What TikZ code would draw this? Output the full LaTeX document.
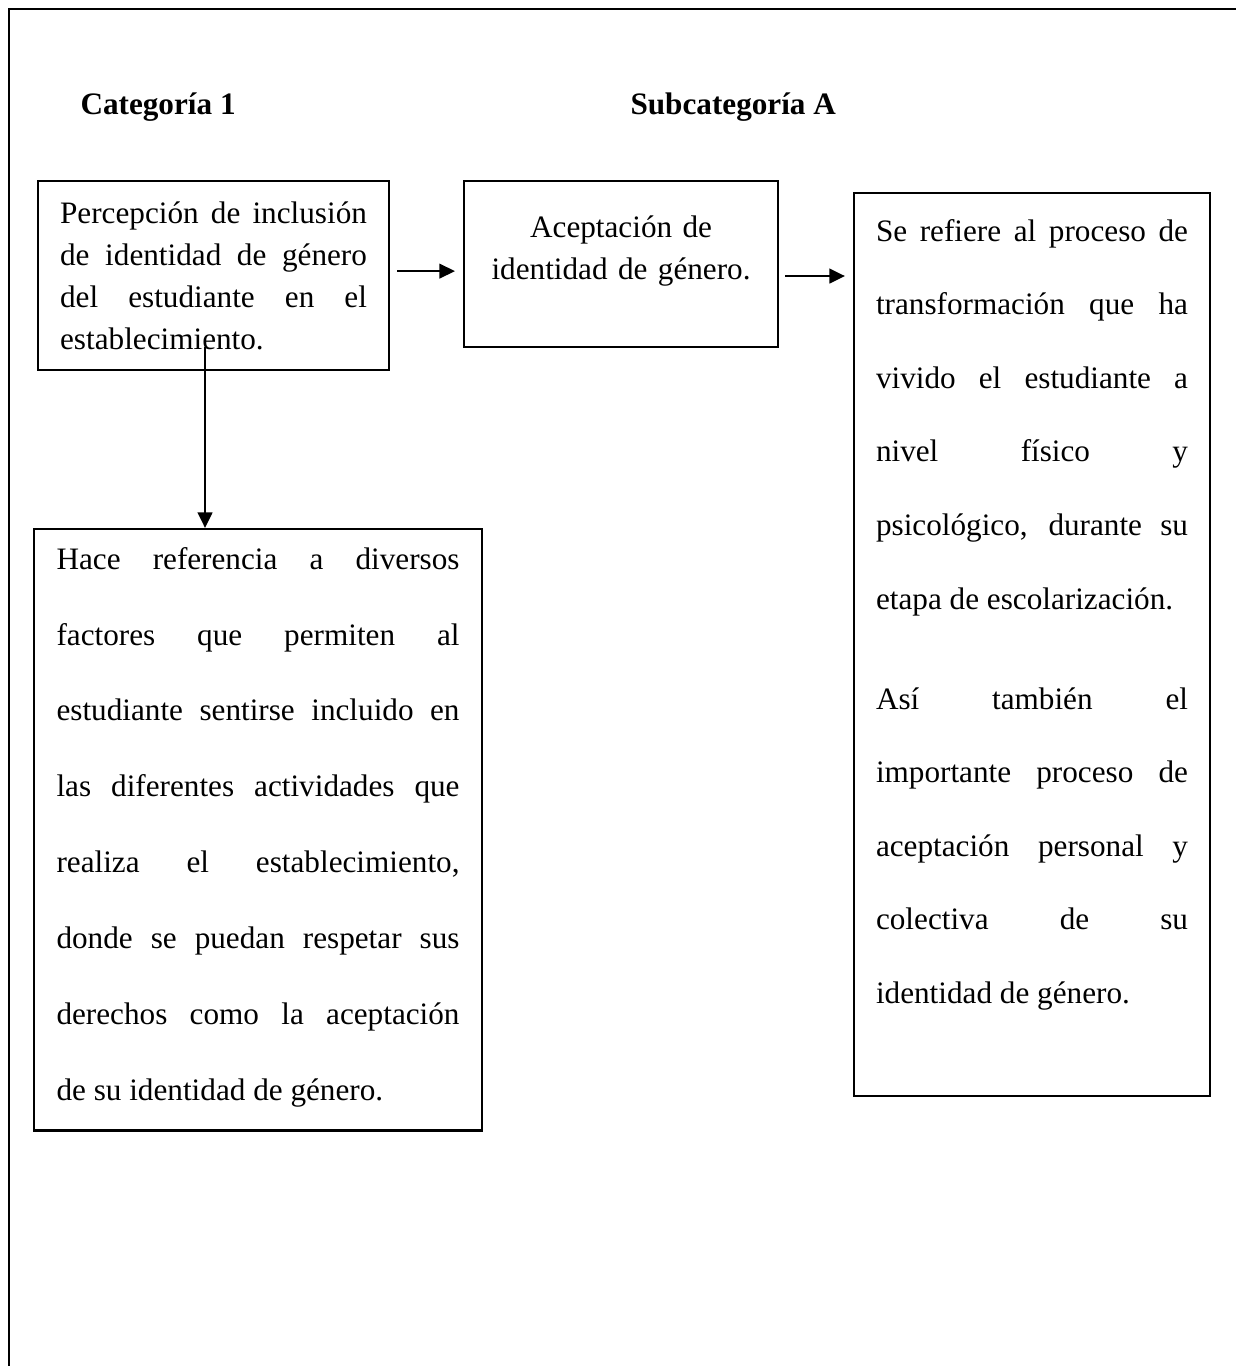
\documentclass[tikz,border=0pt]{standalone}
\usepackage{fontspec}
\setmainfont{Liberation Serif}
\usetikzlibrary{positioning,calc,arrows.meta}
\tikzset{
  textbox/.style = {shape=rectangle, draw, line width=0.8pt,
                    anchor=north west, inner ysep=0pt},
  heading/.style = {font=\fontsize{12}{14}\selectfont\bfseries,
                    anchor=base west, inner sep=0pt},
  link/.style    = {->, line width=0.9pt}
}
\tolerance=10000 \hbadness=10000
\newcommand{\topstrut}[1]{\rule{0pt}{#1}}
\newcommand{\botstrut}[1]{\rule[-#1]{0pt}{0pt}}

\begin{document}
\begin{tikzpicture}[x=0.3846pt, y=-0.3846pt,
   >={Triangle[length=6pt,width=5.6pt]}]
\useasboundingbox (0,0) rectangle (1236,1366);
% frame (cut at right and bottom)
\draw[line width=1.1pt] (9,1366) -- (9,9) -- (1236,9);

\node[heading] (cat) at (80,114) {Categoría 1};
\node[heading] (subcat) at (630,114) {Subcategoría A};

\node[textbox, text width=118pt, inner xsep=8.5pt, align=justify,
      font=\fontsize{12}{16.15}\selectfont] (perc) at (37,180)
  {\topstrut{16.2pt}Percepción de inclusión\linebreak
   de identidad de género\linebreak
   del estudiante en el\linebreak
   establecimiento.\botstrut{8.1pt}};

\node[textbox, text width=110.8pt, inner xsep=5pt, align=center,
      font=\fontsize{12}{16.15}\selectfont] (acept) at (463,180)
  {\topstrut{21.9pt}Aceptación de\\
   identidad de género.\botstrut{25.8pt}};

\node[textbox, text width=120pt, inner xsep=8.45pt, align=justify,
      font=\fontsize{12}{28.3}\selectfont] (defsub) at (853,192)
  {\topstrut{18.5pt}Se refiere al proceso de\linebreak
   transformación que ha\linebreak
   vivido el estudiante a\linebreak
   nivel físico y\linebreak
   psicológico, durante su\linebreak
   etapa de escolarización.\\[10.2pt]
   Así también el\linebreak
   importante proceso de\linebreak
   aceptación personal y\linebreak
   colectiva de su\linebreak
   identidad de género.\botstrut{35.4pt}};

\node[textbox, text width=155pt, inner xsep=8.65pt, align=justify,
      font=\fontsize{12}{29.2}\selectfont] (defcat) at (33,528)
  {\topstrut{15.4pt}Hace referencia a diversos\linebreak
   factores que permiten al\linebreak
   estudiante sentirse incluido en\linebreak
   las diferentes actividades que\linebreak
   realiza el establecimiento,\linebreak
   donde se puedan respetar sus\linebreak
   derechos como la aceptación\linebreak
   de su identidad de género.\botstrut{11.5pt}};

% connectors
\draw[link] ($(perc.east)+(7,-4.5)$) -- ($(perc.east -| acept.west)+(-8,-4.5)$);
\draw[link] ($(acept.east)+(6,12)$) -- ($(acept.east -| defsub.west)+(-8,12)$);
\draw[link] ($(perc.south)+(-8.5,-24)$) -- ($(perc.south |- defcat.north)+(-8.5,0)$);
\end{tikzpicture}
\end{document}
